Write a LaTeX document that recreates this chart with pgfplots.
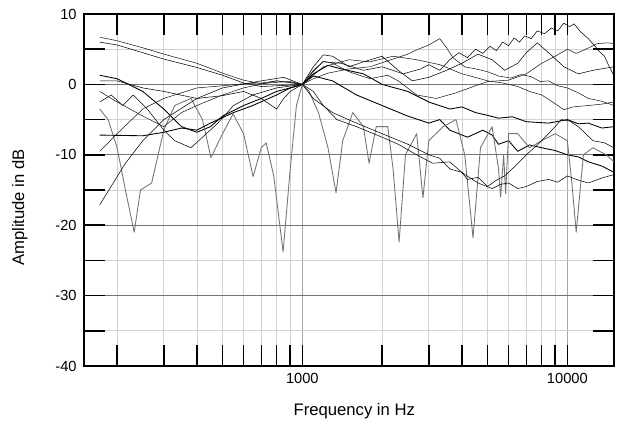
\documentclass[border=0pt]{standalone}
\usepackage{pgfplots}
\pgfplotsset{compat=1.18}
\usepackage{fontspec}
\setmainfont{Liberation Sans}
\begin{document}
\begin{tikzpicture}
\useasboundingbox (-63pt,-45.75pt) rectangle (409.5pt,274.5pt);
\begin{axis}[
  scale only axis, width=397.5pt, height=264pt,
  xmode=log, xmin=150, xmax=15000, ymin=-40, ymax=10,
  xtick={1000,10000}, xticklabels={1000,10000},
  minor xtick={200,300,400,500,600,700,800,900,2000,3000,4000,5000,6000,7000,8000,9000},
  ytick={-40,-30,-20,-10,0,10}, yticklabels={-40,-30,-20,-10,0,10},
  minor ytick={-35,-25,-15,-5,5},
  tick align=inside, major tick length=16pt, minor tick length=16pt,
  tick style={line width=1.1pt, black},
  minor tick style={line width=1.1pt, black},
  grid=both,
  major grid style={line width=0.6pt, black!55},
  minor grid style={line width=0.5pt, black!18},
  major x grid style={line width=0.5pt, black!35},
  axis line style={line width=1.4pt},
  ticklabel style={font=\fontsize{11}{13}\selectfont},
  label style={font=\fontsize{12.5}{14}\selectfont},
  xticklabel style={yshift=-2pt},
  yticklabel style={xshift=-2pt},
  xlabel={Frequency in Hz}, ylabel={Amplitude in dB},
  xlabel style={at={(axis description cs:0.51,-0.128)}, anchor=center},
  ylabel style={at={(axis description cs:-0.121,0.45)}, anchor=center},
  cycle list={{black!90, mark=none, line width=0.65pt, line join=round}},
]
% S1
\addplot coordinates {(172,6.7)(200,6.2)(250,5.2)(300,4.3)(400,3.0)(500,1.6)(600,0.6)(700,0.1)(800,0.3)(900,0.4)(1000,0)(1100,0.8)(1250,1.6)(1500,2.2)(1800,2.5)(2200,3.6)(2500,4.3)(2700,4.9)(3000,5.6)(3300,6.5)(3500,5.2)(3700,3.8)(4100,2.5)(4500,2.2)(5000,1.8)(5500,1.2)(6100,0.9)(6700,1.4)(7300,1.1)(7900,0.4)(8500,0.5)(9200,-0.2)(10000,-0.5)(11000,-1.2)(12000,-2)(13500,-2.4)(15000,-3)};
% S2
\addplot coordinates {(172,6.0)(200,5.6)(250,4.5)(300,3.6)(400,2.4)(500,1.3)(600,0.2)(700,-0.3)(800,-0.2)(900,-0.1)(1000,0)(1100,2.0)(1200,3.2)(1400,3.0)(1700,2.0)(2000,2.5)(2400,1.5)(2800,2.2)(3000,2.8)(3300,2.0)(3600,3.5)(3900,4.5)(4200,3.8)(4500,5.0)(4800,4.4)(5100,5.4)(5400,4.8)(5700,6.0)(6000,5.5)(6300,6.6)(6600,6.0)(6900,6.9)(7300,6.5)(7700,7.6)(8200,7.2)(8700,8.0)(9200,7.6)(9700,8.7)(10200,8.2)(10600,8.6)(11200,7.5)(12000,6.5)(12600,5.6)(13200,4.7)(13800,4.0)(14400,2.5)(15000,1.2)};
% S3
\addplot coordinates {(172,1.3)(200,0.8)(250,-1.0)(300,-3.5)(350,-6.0)(400,-6.8)(450,-6.0)(500,-4.5)(600,-3.0)(700,-2.0)(800,-1.0)(900,-0.5)(1000,0)(1100,1.2)(1300,0.5)(1600,-1.5)(2000,-3.0)(2500,-4.5)(3000,-5.5)(3300,-5.0)(3600,-6.5)(4200,-7.5)(4800,-6.5)(5200,-7.2)(5500,-8.5)(6000,-8.0)(6500,-9.5)(7200,-8.6)(8000,-9.0)(9000,-9.4)(10000,-10)(11000,-10.3)(12000,-11)(13500,-11.6)(15000,-12.5)};
% S4 notched
\addplot[black!55, line width=0.65pt, line join=round] coordinates {(172,-3.5)(185,-5)(200,-9)(215,-15)(232,-21)(245,-15)(270,-14)(300,-6.5)(330,-3)(380,-2)(420,-5)(452,-10.4)(500,-7)(548,-4.2)(600,-7)(652,-13.1)(700,-9)(730,-8.3)(780,-13)(846,-23.8)(900,-12)(950,-3)(1000,0)(1060,-1)(1150,-4)(1250,-9)(1340,-15.4)(1420,-8)(1550,-4)(1700,-6)(1786,-11.2)(1900,-6)(2100,-6)(2200,-12)(2318,-22.4)(2450,-10)(2700,-7)(2852,-16.1)(3000,-8)(3400,-6)(3800,-5)(4100,-10)(4406,-21.8)(4700,-9)(5200,-6)(5500,-12)(5600,-16)(5750,-10)(5850,-15.5)(6000,-7)(6500,-7)(7200,-9)(8000,-8)(9000,-7)(10000,-8)(10400,-14)(10800,-21)(11500,-10)(12500,-9)(14000,-10)(15000,-11)};
% S5
\addplot coordinates {(172,-9.5)(200,-7)(250,-3.5)(300,-2.0)(400,-0.5)(500,-0.2)(600,0.1)(700,0.2)(800,0.5)(900,0.3)(1000,0)(1200,2.5)(1500,3.5)(1800,3.2)(2200,4)(2700,3.5)(3300,2.8)(4000,1.5)(4500,1.0)(5000,0.5)(5700,0.2)(6500,-0.3)(7200,-1.0)(8000,-1.5)(8800,-2.5)(9700,-3.6)(10500,-3.2)(12000,-3.0)(13500,-2.8)(15000,-2.5)};
% S6
\addplot coordinates {(172,-17.1)(215,-11.2)(250,-8)(300,-5)(400,-2)(500,-0.5)(700,0.5)(850,1)(1000,0)(1100,-2)(1300,-4)(1600,-5.5)(2000,-7)(2500,-8.5)(3000,-10)(3300,-10.5)(3600,-12)(4000,-12.5)(4200,-13.5)(4600,-13.2)(5000,-14.5)(5400,-13.6)(5800,-13)(6400,-11.5)(7000,-10)(7700,-8.6)(8500,-7)(9500,-5)(10200,-5.2)(11000,-6)(12500,-8)(13800,-8.3)(15000,-9)};
% S7
\addplot coordinates {(172,-7.2)(250,-7.3)(300,-6.8)(350,-6.2)(400,-6.5)(450,-5.5)(550,-4.0)(650,-3)(800,-1.5)(900,-0.5)(1000,0)(1100,1.5)(1250,2.7)(1400,2.2)(1700,1.5)(2000,0)(2500,-1)(3000,-2.5)(3600,-3.5)(4000,-3.2)(4500,-4.0)(5000,-4.4)(5500,-4.8)(6200,-4.6)(7000,-5.3)(8500,-5.5)(10000,-5)(11000,-5.6)(12000,-5.5)(13500,-6.2)(15000,-6)};
% S8
\addplot coordinates {(172,-2.5)(190,-1.5)(210,-3)(230,-1.5)(260,-3.5)(300,-6.5)(330,-8.0)(380,-9)(420,-7.5)(480,-5.5)(550,-3.0)(650,-1.5)(800,-0.5)(1000,0)(1100,-1)(1200,-3)(1350,-5.0)(1600,-6)(2000,-7.5)(2300,-8.5)(2700,-10)(3100,-11.2)(3600,-11)(4000,-12.5)(4300,-13.3)(4600,-14)(5200,-14.8)(5600,-14.2)(6000,-14)(6500,-14.8)(7000,-14.5)(7700,-13.8)(8500,-13.5)(9200,-13.9)(10000,-13)(11000,-13.6)(12000,-14)(13500,-13.3)(15000,-12.8)};
% S9
\addplot coordinates {(172,-1)(200,-2.5)(250,-4.5)(300,-6.0)(350,-4)(400,-3)(500,-1.5)(600,-0.5)(800,0.5)(1000,0)(1100,1.8)(1200,3.3)(1300,3.0)(1500,1.8)(1800,0.8)(2100,1.3)(2300,0.5)(2700,-1.5)(3200,-2.0)(3800,-1.2)(4500,-0.2)(5000,0.4)(6000,0.6)(7000,1.5)(8000,3.0)(9000,4)(10000,5)(10800,4.4)(11600,4.9)(13000,5.8)(14200,5.9)(15000,5.8)};
% S10
\addplot coordinates {(172,0.5)(200,0.5)(250,-0.5)(300,-1)(400,-2)(500,-1.6)(600,-1)(700,-2)(800,-3.5)(850,-2)(900,-1)(1000,0)(1100,2.5)(1200,4.2)(1300,4.0)(1500,2.5)(1700,3.2)(2000,4.0)(2300,2)(2600,0.5)(3000,1)(3500,2)(4000,3)(4600,4.3)(5200,3.5)(5800,2.0)(6500,3.0)(7000,4.5)(7700,5.9)(8500,4.5)(9700,2.5)(11000,1.5)(12500,2)(15000,2.5)};
\end{axis}
\end{tikzpicture}
\end{document}
